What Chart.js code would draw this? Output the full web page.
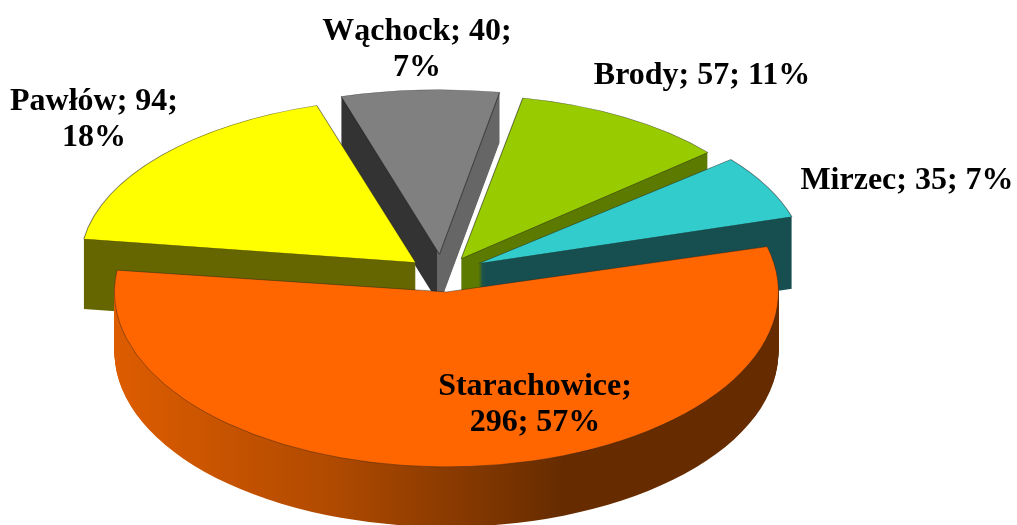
<!DOCTYPE html>
<html>
<head>
<meta charset="utf-8">
<style>
  html, body { margin: 0; padding: 0; background: #fff; }
  canvas { display: block; filter: blur(0.4px); }
</style>
<script src="https://cdn.jsdelivr.net/npm/chart.js@4"></script>
</head>
<body>
<canvas id="pieChart" width="1017" height="525"></canvas>
<script>
// data, clockwise from the right edge of the big slice
const towns = ['Starachowice', 'Pawłów', 'Wąchock', 'Brody', 'Mirzec'];
const counts = [296, 94, 40, 57, 35];
const percents = [57, 18, 7, 11, 7];

// colours of the top faces
const topColors = ['#ff6600', '#ffff00', '#808080', '#99cc00', '#33cccc'];

// label lines, as broken in the picture, and where they sit
const labelBreaks = [1, 2, 2, 3, 3];
const labelCenters = [[535, 387], [94, 102], [417, 32], [702, 76], [907, 181]];

// fake 3D settings
const center = { x: 447, y: 272 };
const explode = 36;
const squash = [0.527, 0.49, 0.49, 0.49, 0.5];
const stretchX = [1, 1.12, 1.1, 1.05, 1.03];
const stretchY = [1, 1.12, 1.065, 1.08, 1.03];
const nudge = [[-3, 1], [-4, 2], [-5.5, 0], [-4, 2], [0, 0]];
const depth = [60, 70, 50, 40, 72];
const drawOrder = [2, 1, 3, 4, 0];

// x stops in page pixels for the side walls
const wallStops = [
  [[114, '#dd5c00'], [330, '#b04a00'], [560, '#662c00'], [778, '#662c00']],
  [[0, '#666600'], [1017, '#666600']],
  [[340, '#333333'], [439, '#333333'], [439, '#666666'], [498, '#666666']],
  [[0, '#5c7a00'], [1017, '#5c7a00']],
  [[0, '#174f50'], [1017, '#174f50']],
];

function labelLines(i) {
  const words = [towns[i] + ';', counts[i] + ';', percents[i] + '%'];
  const first = words.slice(0, labelBreaks[i]).join(' ');
  const second = words.slice(labelBreaks[i]).join(' ');
  return second ? [first, second] : [first];
}

const pie3d = {
  id: 'pie3d',
  beforeDatasetsDraw(chart) {
    const ctx = chart.ctx;
    const arcs = chart.getDatasetMeta(0).data;

    drawOrder.forEach((i) => {
      const arc = arcs[i];
      const mid = (arc.startAngle + arc.endAngle) / 2;
      // tip of the slice, on the chart and on the page
      const tipX = arc.x + Math.cos(mid) * explode;
      const tipY = arc.y + Math.sin(mid) * explode;
      const pageX = center.x + Math.cos(mid) * explode + nudge[i][0];
      const pageY = center.y + Math.sin(mid) * explode * squash[i] + nudge[i][1];

      const place = (dy) => {
        ctx.save();
        ctx.translate(pageX, pageY + dy);
        ctx.scale(stretchX[i], squash[i] * stretchY[i]);
        ctx.translate(-tipX, -tipY);
      };

      // wall gradient is read under the transform, so map its page x back
      const toLocal = (x) => (x - pageX) / stretchX[i] + tipX;
      const stops = wallStops[i];
      const from = stops[0][0];
      const to = stops[stops.length - 1][0];
      const grad = ctx.createLinearGradient(toLocal(from), 0, toLocal(to), 0);
      stops.forEach(([x, color]) => grad.addColorStop((x - from) / (to - from), color));

      // side wall: stack of flat copies, bottom one first
      const wall = Object.create(arc);
      wall.options = { ...arc.options, borderWidth: 0, backgroundColor: grad };
      for (let dy = depth[i]; dy > 0; dy--) {
        place(dy);
        wall.draw(ctx);
        ctx.restore();
      }

      place(0);
      arc.draw(ctx);
      ctx.restore();
    });

    // labels
    ctx.save();
    ctx.fillStyle = '#000';
    ctx.font = 'bold 32px "Liberation Serif"';
    ctx.textAlign = 'center';
    ctx.textBaseline = 'middle';
    towns.forEach((town, i) => {
      labelLines(i).forEach((line, n) => {
        ctx.fillText(line, labelCenters[i][0], labelCenters[i][1] + n * 36);
      });
    });
    ctx.restore();

    return false;
  },
};

new Chart(document.getElementById('pieChart'), {
  type: 'pie',
  data: {
    labels: towns,
    datasets: [{
      data: counts,
      backgroundColor: topColors,
      borderColor: 'rgba(30, 30, 30, 0.55)',
      borderWidth: 1,
      offset: explode * 4,
    }],
  },
  options: {
    responsive: false,
    animation: false,
    events: [],
    rotation: 74,
    radius: 296,
    plugins: { legend: { display: false }, tooltip: { enabled: false } },
  },
  plugins: [pie3d],
});
</script>
</body>
</html>
